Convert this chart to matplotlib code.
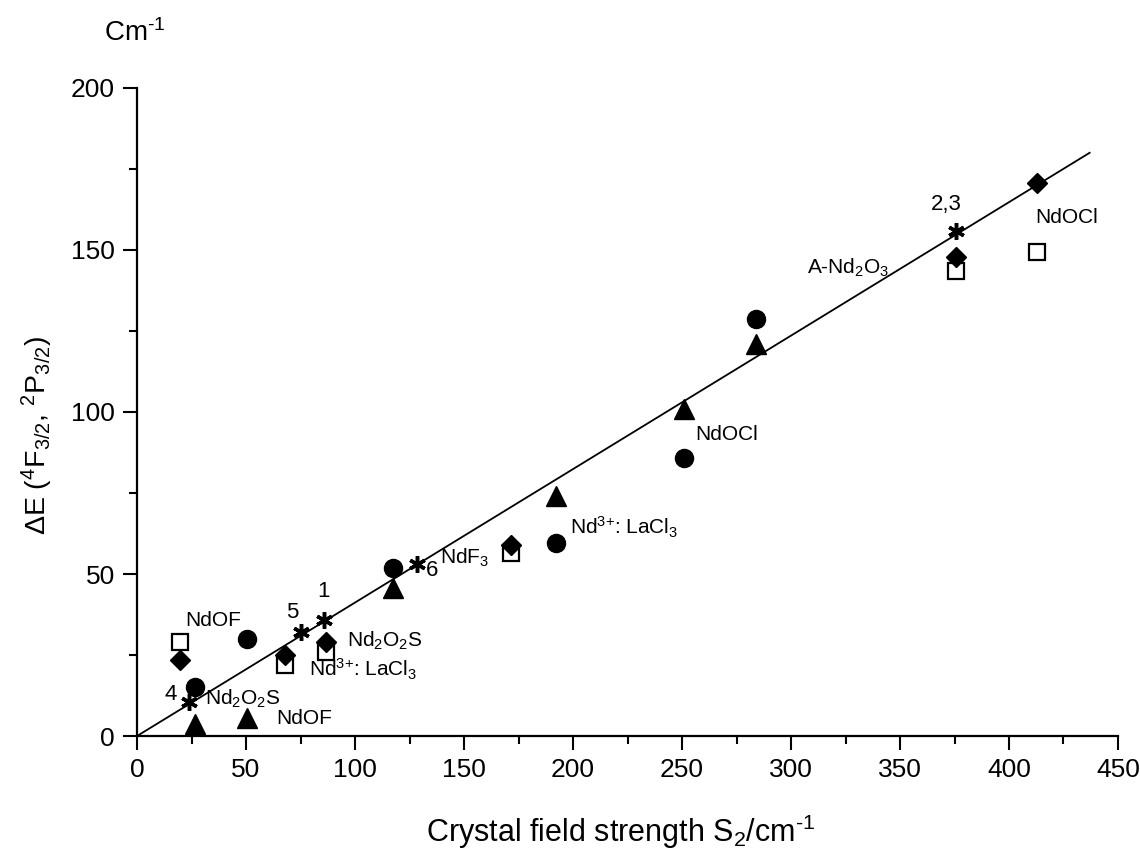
import matplotlib.pyplot as plt

plt.rcParams['font.family'] = ['Liberation Sans', 'DejaVu Sans']
plt.rcParams['mathtext.fontset'] = 'custom'
plt.rcParams['mathtext.rm'] = 'Liberation Sans'
plt.rcParams['mathtext.it'] = 'Liberation Sans:italic'
plt.rcParams['mathtext.default'] = 'regular'

# data
sq_x = [19.8, 68.1, 86.6, 171.7, 375.7, 413.0]
sq_y = [29.0, 21.9, 26.0, 56.5, 143.5, 149.5]

dia_x = [19.8, 68.1, 86.6, 171.7, 375.7, 413.0]
dia_y = [23.5, 25.0, 29.0, 59.0, 147.8, 170.7]

circ_x = [26.7, 50.6, 117.4, 192.4, 250.9, 284.0]
circ_y = [15.0, 30.0, 52.0, 59.6, 85.8, 128.7]

tri_x = [26.7, 50.6, 117.4, 192.4, 250.9, 284.0]
tri_y = [3.8, 5.6, 45.7, 74.0, 101.0, 121.0]

star_x = [24.0, 75.0, 85.6, 128.5, 375.7]
star_y = [10.5, 32.0, 35.8, 53.0, 155.9]

fit_x = [0, 437]
fit_y = [0, 180]

# labels: (text, x, y)
labels = [
    ("NdOF", 22, 35.5),
    ("Nd$_2$O$_2$S", 31, 11.5),
    ("NdOF", 64, 5.5),
    ("Nd$_2$O$_2$S", 96.5, 29.5),
    ("Nd$^{\\text{3+}}$: LaCl$_3$", 79, 20.5),
    ("NdF$_3$", 139, 55),
    ("Nd$^{\\text{3+}}$: LaCl$_3$", 198.5, 64.5),
    ("NdOCl", 256, 93),
    ("A-Nd$_2$O$_3$", 307.5, 144.5),
    ("NdOCl", 412, 160),
]
numbers = [
    ("4", 12.5, 12.8),
    ("5", 68.5, 38),
    ("1", 82.5, 44.5),
    ("6", 132.5, 51),
    ("2,3", 364, 164),
]

fig = plt.figure(figsize=(11.4, 8.5), dpi=100)
ax = fig.add_axes([0.1202, 0.1341, 0.8605, 0.7624])

ax.plot(fit_x, fit_y, color='black', lw=1.3, zorder=1)
ax.plot(sq_x, sq_y, ls='none', marker='s', ms=12, mfc='white', mec='black', mew=1.6, zorder=2)
ax.plot(dia_x, dia_y, ls='none', marker='D', ms=10.5, mfc='black', mec='black', zorder=3)
ax.plot(circ_x, circ_y, ls='none', marker='o', ms=13, mfc='black', mec='black', zorder=3)
ax.plot(tri_x, tri_y, ls='none', marker='^', ms=14, mfc='black', mec='black', zorder=3)
ax.plot(star_x, star_y, ls='none', marker=(6, 2, 0), ms=12, mec='black', mew=2.5, zorder=4)

for t, x, y in labels:
    ax.text(x, y, t, fontsize=15, ha='left', va='center')
for t, x, y in numbers:
    ax.text(x, y, t, fontsize=16, ha='left', va='center')

ax.set_xlim(0, 450)
ax.set_ylim(0, 200)
ax.set_xticks(range(0, 451, 50))
ax.set_yticks(range(0, 201, 50))
ax.set_xticks(range(25, 451, 50), minor=True)
ax.set_yticks(range(25, 201, 50), minor=True)
ax.spines['top'].set_visible(False)
ax.spines['right'].set_visible(False)
for s in ['left', 'bottom']:
    ax.spines[s].set_linewidth(1.6)
ax.tick_params(which='major', direction='out', length=10, width=1.5, labelsize=19, pad=6)
ax.tick_params(which='minor', direction='out', length=6, width=1.5)

fig.text(621 / 1140, 1 - 842 / 850, "Crystal field strength S$_2$/cm$^{\\text{-1}}$",
         fontsize=22, ha='center', va='baseline')
fig.text(37 / 1140, 1 - 435 / 850, "ΔE ($^4$F$_{3/2}$, $^2$P$_{3/2}$)",
         fontsize=20.5, ha='center', va='center', rotation=90)
fig.text(135 / 1140, 1 - 33 / 850, "Cm$^{\\text{-1}}$", fontsize=20, ha='center', va='center')

fig.savefig("out.png", dpi=100)
